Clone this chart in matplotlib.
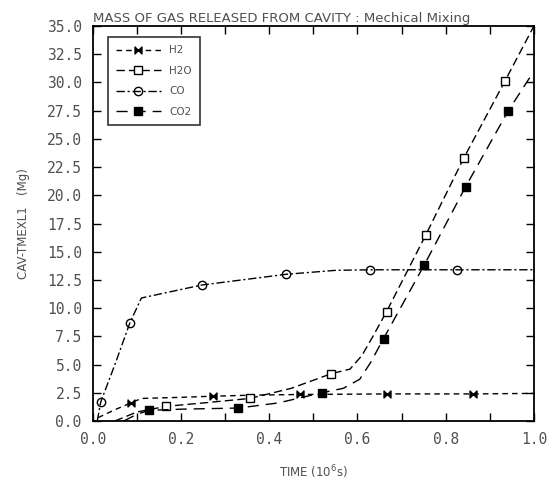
import numpy as np
import matplotlib
matplotlib.use('Agg')
import matplotlib.pyplot as plt
from matplotlib.path import Path
from matplotlib.ticker import MultipleLocator, FormatStrFormatter

# curve points (time in 1e6 s, mass in Mg)
h2_x = [0.012, 0.05, 0.086, 0.11, 0.2, 0.273, 0.37, 0.47, 0.666, 0.862, 1.0]
h2_y = [0.3, 1.0, 1.6, 2.0, 2.1, 2.2, 2.3, 2.35, 2.4, 2.4, 2.45]
h2_marks = [2, 5, 7, 8, 9]

h2o_x = [0.05, 0.1, 0.166, 0.25, 0.356, 0.45, 0.541, 0.583, 0.61, 0.635, 0.666, 0.755, 0.841, 0.934, 1.0]
h2o_y = [0.0, 0.8, 1.3, 1.6, 2.0, 2.9, 4.2, 4.6, 5.8, 7.5, 9.7, 16.5, 23.3, 30.1, 35.0]
h2o_marks = [2, 4, 6, 10, 11, 12, 13]

co_x = [0.01, 0.018, 0.05, 0.084, 0.11, 0.247, 0.438, 0.55, 0.628, 0.825, 1.0]
co_y = [0.0, 1.7, 5.0, 8.7, 10.9, 12.05, 13.0, 13.35, 13.4, 13.4, 13.4]
co_marks = [1, 3, 5, 6, 8, 9]

co2_x = [0.07, 0.1, 0.128, 0.2, 0.33, 0.42, 0.519, 0.568, 0.605, 0.63, 0.659, 0.751, 0.845, 0.942, 1.0]
co2_y = [0.0, 0.6, 0.95, 1.05, 1.15, 1.6, 2.5, 2.9, 3.7, 5.2, 7.3, 13.8, 20.75, 27.5, 31.0]
co2_marks = [2, 4, 6, 10, 11, 12, 13]

txt = '#505050'
mono = 'DejaVu Sans Mono'

# bowtie marker for H2
bowtie = Path([(-1, 1), (1, -1), (1, 1), (-1, -1), (-1, 1)],
              [Path.MOVETO, Path.LINETO, Path.LINETO, Path.LINETO, Path.CLOSEPOLY])

fig = plt.figure(figsize=(5.51, 4.86), dpi=100)
ax = fig.add_axes([0.1685, 0.1337, 0.8005, 0.8128])

ax.plot(h2_x, h2_y, color='k', lw=1.0, ls=(0, (4, 3)), marker=bowtie, ms=5,
        mfc='k', mec='k', markevery=h2_marks, label='H2')
ax.plot(h2o_x, h2o_y, color='k', lw=1.0, ls=(0, (6, 3)), marker='s', ms=6,
        mfc='white', mec='k', markevery=h2o_marks, label='H2O')
ax.plot(co_x, co_y, color='k', lw=1.0, ls=(0, (6, 2, 1.5, 2)), marker='o', ms=6,
        mfc='none', mec='k', markevery=co_marks, label='CO')
ax.plot(co2_x, co2_y, color='k', lw=1.0, ls=(0, (8, 5)), marker='s', ms=6,
        mfc='k', mec='k', markevery=co2_marks, label='CO2')

ax.set_xlim(0.0, 1.0)
ax.set_ylim(0.0, 35.0)
ax.xaxis.set_major_locator(MultipleLocator(0.2))
ax.xaxis.set_minor_locator(MultipleLocator(0.1))
ax.yaxis.set_major_locator(MultipleLocator(2.5))
ax.xaxis.set_major_formatter(FormatStrFormatter('%.1f'))
ax.yaxis.set_major_formatter(FormatStrFormatter('%.1f'))
ax.tick_params(which='both', direction='in', top=True, right=True,
               colors='k', labelcolor=txt, width=1.0)
ax.tick_params(which='major', length=6, labelsize=10.5, pad=8)
ax.tick_params(which='minor', length=6)
for lab in ax.get_xticklabels() + ax.get_yticklabels():
    lab.set_family(mono)
for s in ax.spines.values():
    s.set_linewidth(1.3)

ax.set_xlabel('TIME (10$^6$s)', fontsize=8.5, color=txt, labelpad=12)
ax.set_ylabel('CAV-TMEXL1   (Mg)', fontsize=8.5, color=txt, labelpad=12)
ax.set_title('MASS OF GAS RELEASED FROM CAVITY : Mechical Mixing',
             fontsize=9.5, color=txt, loc='left', pad=3)

leg = ax.legend(loc='upper left', bbox_to_anchor=(0.022, 0.985), fontsize=7.5,
                numpoints=1, handlelength=4.3, frameon=True, fancybox=False,
                borderpad=0.8, labelspacing=1.0, handletextpad=0.8)
leg.get_frame().set_edgecolor('k')
leg.get_frame().set_linewidth(1.2)
for t in leg.get_texts():
    t.set_color(txt)

fig.savefig('out.png', dpi=100)
